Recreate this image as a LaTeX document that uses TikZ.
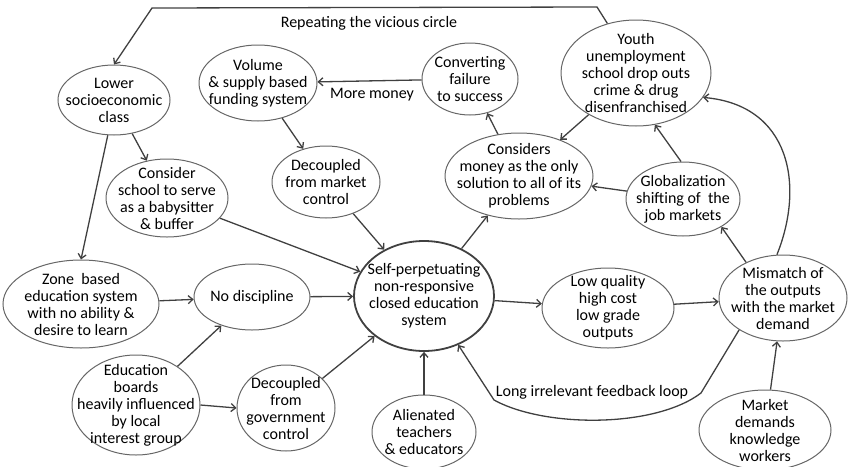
\documentclass[tikz,border=0pt]{standalone}
\usepackage{fontspec}
\setmainfont{Carlito}
\usetikzlibrary{shapes.geometric, arrows.meta}

\begin{document}
\begin{tikzpicture}[x=1pt, y=-1pt, >={Straight Barb[length=4.5pt,width=8pt]},
  bubble/.style={ellipse, draw=black!60, line width=1pt, inner xsep=-20pt, inner ysep=-15pt,
    align=center, font=\fontsize{16}{17}\selectfont},
  link/.style={->, draw=black!75, line width=1.3pt},
  tag/.style={font=\fontsize{16}{17}\selectfont}]
  \useasboundingbox (0,0) rectangle (848,466);

  % Upper row
  \node[bubble, minimum width=112pt, minimum height=70pt] (lower) at (114,100) {Lower\\socioeconomic\\class};
  \node[bubble, minimum width=118pt, minimum height=76pt] (volume) at (258,83) {Volume\\\& supply based\\funding system};
  \node[bubble, minimum width=96pt, minimum height=72pt] (convert) at (470,79) {Converting\\failure\\to success};
  \node[bubble, minimum width=150pt, minimum height=106pt] (youth) at (636,73) {Youth\\unemployment\\school drop outs\\crime \& drug\\disenfranchised};

  % Second row
  \node[bubble, minimum width=122pt, minimum height=78pt] (babysit) at (167,198) {Consider\\school to serve\\as a babysitter\\\& buffer};
  \node[bubble, minimum width=108pt, minimum height=72pt] (mktctl) at (326,182) {Decoupled\\from market\\control};
  \node[bubble, minimum width=148pt, minimum height=86pt] (money) at (519,176) {Considers\\money as the only\\solution to all of its\\problems};
  \node[bubble, minimum width=114pt, minimum height=74pt] (global) at (683,199) {Globalization\\shifting of\ \ the\\job markets};

  % Middle row
  \node[bubble, minimum width=156pt, minimum height=88pt] (zone) at (81,304) {Zone\ \ based\\education system\\with no ability \&\\desire to learn};
  \node[bubble, minimum width=116pt, minimum height=66pt] (nodisc) at (252,297) {No discipline};
  \node[bubble, line width=1.8pt, draw=black!75, minimum width=140pt, minimum height=110pt] (main) at (424,296) {Self-perpetuating\\non-responsive\\closed education\\system};
  \node[bubble, minimum width=132pt, minimum height=80pt] (lowq) at (608,308) {Low quality\\high cost\\low grade\\outputs};
  \node[bubble, minimum width=128pt, minimum height=86pt] (mismatch) at (783,298) {Mismatch of\\the outputs\\with the market\\demand};

  % Bottom row
  \node[bubble, minimum width=128pt, minimum height=100pt] (boards) at (136,405) {Education\\boards\\heavily influenced\\by local\\interest group};
  \node[bubble, minimum width=98pt, minimum height=86pt] (govctl) at (286,408) {Decoupled\\from\\government\\control};
  \node[bubble, minimum width=104pt, minimum height=74pt] (alien) at (424,432) {Alienated\\teachers\\\& educators};
  \node[bubble, minimum width=132pt, minimum height=80pt] (market) at (765,430) {Market\\demands\\knowledge\\workers};

  % Connector labels
  \node[tag] (repeat) at (369,23) {Repeating the vicious circle};
  \node[tag] (more) at (372,95) {More money};
  \node[tag] (feedback) at (592,392) {Long irrelevant feedback loop};

  % Connectors
  \draw[link] (youth.120) -- (597,7) -- (152,8) -- (lower.north);
  \draw[link] (lower) -- (babysit);
  \draw[link] (lower.-100) -- (zone.north);
  \draw[link] (volume) -- (mktctl);
  \draw[link] (convert) -- (volume);
  \draw[link] (babysit) -- (main);
  \draw[link] (mktctl) -- (main);
  \draw[link] (zone) -- (nodisc);
  \draw[link] (nodisc) -- (main);
  \draw[link] (boards) -- (nodisc);
  \draw[link] (boards.east) -- (govctl.west);
  \draw[link] (govctl) -- (main);
  \draw[link] (alien.north) -- (main.south);
  \draw[link] (main) -- (lowq);
  \draw[link] (lowq) -- (mismatch);
  \draw[link] (market) -- (mismatch);
  \draw[link] (main) -- (money);
  \draw[link] (money) -- (convert);
  \draw[link] (youth) -- (money);
  \draw[link] (global) -- (money);
  \draw[link] (global.93) -- (youth.-70);
  \draw[link] (mismatch.136) -- (global.-36);
  \draw[link] (mismatch.98) .. controls (805,185) and (790,105) .. (youth.-20);
  \draw[link] (mismatch.216) -- (701,393) .. controls (655,428) and (545,428) .. (494,400) -- (main.-55);
\end{tikzpicture}
\end{document}
